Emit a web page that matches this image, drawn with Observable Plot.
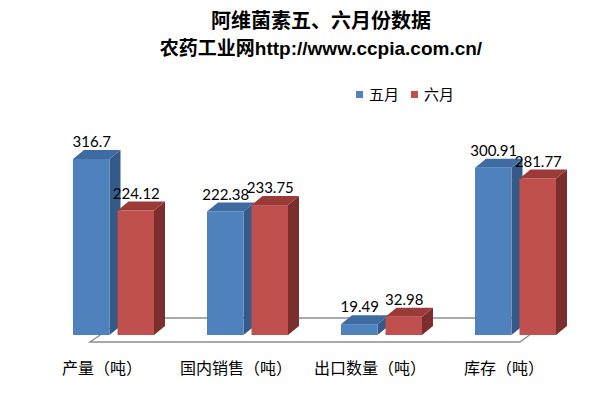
<!DOCTYPE html>
<html>
<head>
<meta charset="utf-8">
<script src="https://cdn.jsdelivr.net/npm/d3@7"></script>
<script src="https://cdn.jsdelivr.net/npm/@observablehq/plot@0.6"></script>
<style>
  body { margin: 0; background: #fff; }
  #wrap { position: relative; width: 611px; height: 395px; overflow: hidden; }
  #title { height: 60px; box-sizing: border-box; padding-top: 8px; padding-left: 31px; width: 611px;
           text-align: center; font-weight: bold; font-family: "Liberation Sans", "Noto Sans CJK SC", sans-serif; color: #000; }
  #title .l1 { font-size: 20px; line-height: 27px; }
  #title .l2 { font-size: 19px; line-height: 27px; }
  #legend { position: absolute; top: 84px; left: 356px; font-family: "Noto Sans CJK SC", sans-serif; font-size: 15px; line-height: 20px; display: flex; align-items: center; }
  #legend .sw { width: 7px; height: 7px; display: inline-block; margin-right: 6px; }
  #legend .item { display: flex; align-items: center; margin-right: 12px; }
</style>
</head>
<body>
<div id="wrap">
  <div id="title"><div class="l1">阿维菌素五、六月份数据</div><div class="l2">农药工业网http://www.ccpia.com.cn/</div></div>
  <div id="legend"></div>
  <div id="chart"></div>
</div>
<script>
const categories = ["产量（吨）", "国内销售（吨）", "出口数量（吨）", "库存（吨）"];
const months = ["五月", "六月"];
const mayValues = [316.7, 222.38, 19.49, 300.91];
const juneValues = [224.12, 233.75, 32.98, 281.77];

const faces = {
  "五月": {front: "#4F81BD", top: "#3E6BA2", side: "#345A88"},
  "六月": {front: "#C0504D", top: "#9A3B39", side: "#7B2E2C"}
};

const rows = [];
categories.forEach((c, i) => {
  rows.push({cat: c, month: "五月", value: mayValues[i]});
  rows.push({cat: c, month: "六月", value: juneValues[i]});
});

// legend
const leg = document.getElementById("legend");
months.forEach(m => {
  const it = document.createElement("span");
  it.className = "item";
  it.innerHTML = `<span class="sw" style="background:${faces[m].front}"></span>${m}`;
  leg.appendChild(it);
});

const DX = 11, DY = -9;

function bar3d(index, scales, values) {
  const bw = scales.x.bandwidth ? scales.x.bandwidth() : 36;
  const g = d3.create("svg:g");
  for (const i of index) {
    const f = faces[rows[i].month];
    const x0 = values.x[i], x1 = x0 + bw;
    const yt = Math.min(values.y1[i], values.y2[i]);
    const yb = Math.max(values.y1[i], values.y2[i]);
    g.append("path").attr("d", `M${x1},${yb}L${x1 + DX},${yb + DY}L${x1 + DX},${yt + DY}L${x1},${yt}Z`).attr("fill", f.side);
    g.append("path").attr("d", `M${x0},${yt}L${x0 + DX},${yt + DY}L${x1 + DX},${yt + DY}L${x1},${yt}Z`).attr("fill", f.top);
    g.append("rect").attr("x", x0).attr("y", yt).attr("width", bw).attr("height", yb - yt).attr("fill", f.front);
  }
  return g.node();
}

function floor(index, scales, values, dimensions) {
  const y0 = scales.y(0);
  const L = dimensions.marginLeft, R = dimensions.width - dimensions.marginRight;
  const yf = y0 + 7, yb = y0 - 17;
  const g = d3.create("svg:g");
  g.append("path")
    .attr("d", `M${L + 17},${yf}L${L + 52},${yb}L${R - 4},${yb}L${R - 36},${yf}Z`)
    .attr("fill", "#fff").attr("stroke", "#8f8f8f").attr("stroke-width", 1.4);
  return g.node();
}

const k = 176 / 316.7;
const chart = Plot.plot({
  width: 611,
  height: 335,
  marginLeft: 20,
  marginRight: 2,
  marginTop: 0,
  marginBottom: 27,
  style: {background: "transparent", overflow: "visible"},
  fx: {domain: categories, paddingInner: 0.3955, paddingOuter: 0.3955, axis: null},
  x: {domain: months, paddingInner: 0.18, paddingOuter: 0, axis: null, round: false},
  y: {domain: [0, 350], range: [275, 275 - 350 * k], axis: null},
  marks: [
    Plot.frame({facet: "super", stroke: "none", render: floor}),
    Plot.barY(rows, {fx: "cat", x: "month", y: "value", render: bar3d}),
    Plot.text(rows, {fx: "cat", x: "month", y: "value", text: d => String(d.value), dy: -17,
      fontSize: 15, fontFamily: "Lato, 'Noto Sans CJK SC', sans-serif", fill: "#000", lineAnchor: "middle"}),
    Plot.text(categories, {fx: d => d, text: d => d, frameAnchor: "bottom", lineAnchor: "middle", dx: -12,
      fontSize: 16, fontFamily: "'Noto Sans CJK SC', sans-serif", fill: "#000"})
  ]
});
document.getElementById("chart").appendChild(chart);
</script>
</body>
</html>
